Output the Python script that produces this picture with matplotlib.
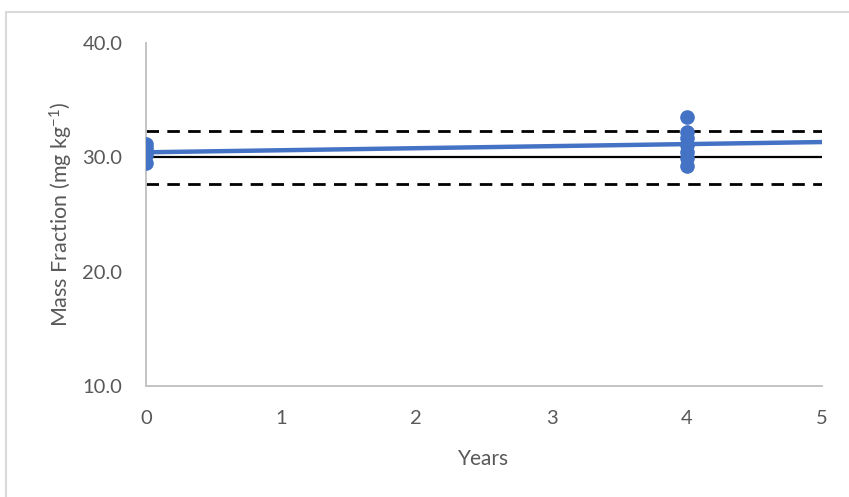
import numpy as np
import matplotlib
matplotlib.use("Agg")
import matplotlib.pyplot as plt
from matplotlib.patches import Rectangle

plt.rcParams['font.family'] = ['Lato', 'DejaVu Sans']
plt.rcParams['mathtext.fontset'] = 'custom'
plt.rcParams['mathtext.rm'] = 'Lato'
plt.rcParams['mathtext.it'] = 'Lato'

# Measured mass fractions (mg/kg) at each time point
years_0 = [0, 0, 0, 0, 0]
mass_0 = [31.2, 30.8, 30.5, 30.2, 29.5]
years_4 = [4, 4, 4, 4, 4, 4, 4]
mass_4 = [33.5, 32.2, 31.7, 31.1, 30.5, 29.9, 29.2]

# Certified value and uncertainty band
certified = 30.0
upper = 32.3
lower = 27.7

x_ticks = [0, 1, 2, 3, 4, 5]
y_ticks = [10.0, 20.0, 30.0, 40.0]

blue = '#4472C4'
grey_text = '#595959'

fig = plt.figure(figsize=(8.49, 4.97), dpi=100)
fig.patch.set_facecolor('white')

# chart area frame (runs off the right and bottom edges)
W, H = 849, 497
fig.patches.append(Rectangle((6 / W, -0.1), 1.2, 1 - 12 / H + 0.1,
                             transform=fig.transFigure, fill=False,
                             edgecolor='#d9d9d9', linewidth=1.5))

ax = fig.add_axes([0.172, 0.2233, 0.796, 0.6902])

x_all = np.array(years_0 + years_4)
y_all = np.array(mass_0 + mass_4)

# Linear trend through all measurements
slope, intercept = np.polyfit(x_all, y_all, 1)
xs = np.array([0, 5])

ax.plot([0, 5], [certified, certified], color='black', lw=1.6, zorder=2)
ax.plot([0, 5], [upper, upper], color='black', lw=2.0, ls=(0, (4.5, 3)), zorder=2)
ax.plot([0, 5], [lower, lower], color='black', lw=2.0, ls=(0, (4.5, 3)), zorder=2)
ax.plot(xs, slope * xs + intercept, color=blue, lw=3.2, zorder=3)
ax.plot(x_all, y_all, 'o', color=blue, markersize=9.5, zorder=4)

ax.set_xlim(0, 5)
ax.set_ylim(10, 40)
ax.set_xticks(x_ticks)
ax.set_yticks(y_ticks)
ax.set_yticklabels([f'{v:.1f}' for v in y_ticks])
ax.tick_params(length=0, labelsize=14.5, labelcolor=grey_text)
ax.tick_params(axis='y', pad=17)
ax.tick_params(axis='x', pad=17)

for side in ['top', 'right']:
    ax.spines[side].set_visible(False)
for side in ['left', 'bottom']:
    ax.spines[side].set_color('#bfbfbf')
    ax.spines[side].set_linewidth(1.3)

ax.set_xlabel('Years', fontsize=15, color=grey_text, labelpad=16)
ax.set_ylabel('Mass Fraction (mg kg$^{-1}$)', fontsize=15.5, color=grey_text, labelpad=5)

fig.savefig('out.png', dpi=100)
